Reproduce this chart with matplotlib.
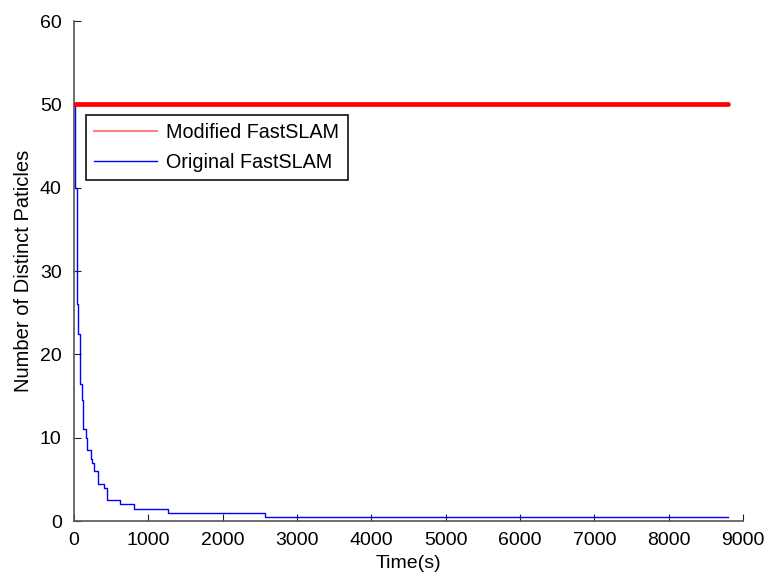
import matplotlib
matplotlib.use('Agg')
import matplotlib.pyplot as plt
from matplotlib.lines import Line2D

## data
# modified FastSLAM keeps all particles distinct
mod_t = [0, 8800]
mod_n = [50, 50]

# original FastSLAM : step changes of distinct particle count
org_t = [0, 20, 36, 58, 81, 103, 126, 157, 170, 224, 247, 269, 327, 408, 440, 619, 807, 1269, 2570, 8800]
org_n = [50, 40, 26, 22.5, 16.5, 14.5, 11, 10, 8.5, 7.5, 7, 6, 4.5, 4, 2.5, 2, 1.5, 1, 0.5, 0.5]

x_ticks = [0, 1000, 2000, 3000, 4000, 5000, 6000, 7000, 8000, 9000]
y_ticks = [0, 10, 20, 30, 40, 50, 60]

## parameter
fs = 14.
plt.rcParams['font.family'] = ['Liberation Sans', 'DejaVu Sans']
ax_col = '#555555'

## plot
fig = plt.figure(figsize=(7.67, 5.73), dpi=100)
ax = fig.add_axes([74/767, 52/573, 669/767, 500/573])

ax.plot(org_t, org_n, color='#0000ff', lw=1., drawstyle='steps-post', zorder=2)
ax.plot(mod_t, mod_n, color='#ff0000', lw=3.4, solid_capstyle='round', zorder=3)

ax.set(xlim=(0, 9000), ylim=(0, 60), xticks=x_ticks, yticks=y_ticks)
ax.spines['top'].set_visible(False)
ax.spines['right'].set_visible(False)
for sp in ('left', 'bottom'):
	ax.spines[sp].set_color(ax_col)
	ax.spines[sp].set_linewidth(1.2)
ax.tick_params(direction='in', length=5., width=0.8, color='#222222', labelsize=fs)
ax.tick_params(axis='x', pad=7.7)
ax.tick_params(axis='y', pad=8.9)

ax.set_xlabel('Time(s)', fontsize=fs, labelpad=4.6)
ax.set_ylabel('Number of Distinct Paticles', fontsize=fs+.5, labelpad=5.)

## legend
hdl = [Line2D([], [], color='#ff7f7f', lw=1.5),
	   Line2D([], [], color='#0000ff', lw=1.)]
leg = ax.legend(hdl, ['Modified FastSLAM', 'Original FastSLAM'], loc='upper left',
				bbox_to_anchor=(0.018, 0.812), borderaxespad=0., fontsize=fs+.2,
				fancybox=False, framealpha=1., edgecolor='#222222',
				handlelength=3.2, handletextpad=0.45, borderpad=0.42, labelspacing=0.55)
leg.get_frame().set_linewidth(1.3)

fig.savefig('out.png', dpi=100)
plt.close()
